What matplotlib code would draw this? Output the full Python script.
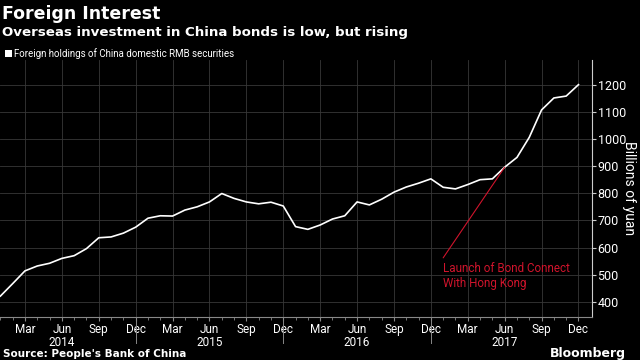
import numpy as np
import matplotlib
matplotlib.use('Agg')
import matplotlib.pyplot as plt
import matplotlib.transforms as mtransforms
from matplotlib.patches import Rectangle

plt.rcParams['font.family'] = ['DejaVu Sans']
narrow = ['Liberation Sans Narrow', 'Roboto', 'DejaVu Sans']

#%% data (monthly, Jan 2014 - Dec 2017), billions of yuan
years = [2014, 2015, 2016, 2017]
month_names = ['Jan', 'Feb', 'Mar', 'Apr', 'May', 'Jun',
               'Jul', 'Aug', 'Sep', 'Oct', 'Nov', 'Dec']
holdings = [421, 467, 514, 532, 542, 560, 570, 596, 636, 639, 653, 675,
            708, 717, 716, 738, 750, 768, 799, 781, 768, 761, 767, 753,
            677, 667, 683, 705, 717, 768, 757, 778, 804, 823, 837, 853,
            822, 816, 832, 850, 853, 896, 932, 1006, 1107, 1151, 1158, 1200]
y_ticks = [400, 500, 600, 700, 800, 900, 1000, 1100, 1200]
event_month = 41   # Jun 2017, Bond Connect launch
event_text = 'Launch of Bond Connect\nWith Hong Kong'

#%% figure
bg = 'black'
grid_c = '#383838'
red = '#d0142c'

fig = plt.figure(figsize=(6.4, 3.6), dpi=100, facecolor=bg)
ax = fig.add_axes([0.0, 0.1194, 0.925, 0.7140], facecolor=bg)

months = np.arange(len(holdings))
ax.plot(months, holdings, color='white', lw=1.2, zorder=3)

ax.set_xlim(-0.03, 48.1)
ax.set_ylim(344, 1291)

# x ticks: quarters with month names, year under Jun
major = [m for m in months if m % 3 == 2]
labels = []
for m in major:
    lab = month_names[m % 12]
    if m % 12 == 5:
        lab = lab + '\n' + str(years[m // 12])
    labels.append(lab)
ax.set_xticks(major)
ax.set_xticklabels(labels, color='white', fontsize=8.5, linespacing=1.05, family=narrow)
ax.set_xticks(months, minor=True)
ax.tick_params(axis='x', which='major', length=3, color='#888888', pad=1)
ax.tick_params(axis='x', which='minor', length=2, color='#888888')

# year separators below axis at Dec
trans = mtransforms.blended_transform_factory(ax.transData, ax.transAxes)
for m in major:
    if m % 12 == 11 and m != months[-1]:
        ax.plot([m, m], [0, -0.10], color='#888888', lw=0.7, transform=trans, clip_on=False)

# y axis on the right
ax.yaxis.tick_right()
ax.set_yticks(y_ticks)
ax.set_yticklabels([str(v) for v in y_ticks], color='white', fontsize=9, family=narrow)
ax.tick_params(axis='y', length=3, color='#cccccc', pad=1)
ax.set_ylabel('Billions of yuan', color='white', fontsize=10, rotation=270, family=narrow)
ax.yaxis.set_label_position('right')
ax.yaxis.set_label_coords(1.062, 0.5)
ax.yaxis.label.set_va('center')

ax.grid(True, color=grid_c, lw=0.6)
ax.set_axisbelow(True)

for s in ['top', 'left']:
    ax.spines[s].set_visible(False)
ax.spines['right'].set_color('#cccccc')
ax.spines['bottom'].set_color('#888888')

# annotation: leader line plus text underneath its start
ax.annotate('', xy=(event_month, holdings[event_month]), xytext=(36.0, 562),
            arrowprops=dict(arrowstyle='-', color=red, lw=0.8, shrinkA=0, shrinkB=0))
ax.text(36.0, 545, event_text, color=red, fontsize=8.4, ha='left', va='top',
        linespacing=1.2, family=narrow)

# titles
fig.text(0.003, 0.985, 'Foreign Interest', color='white', fontsize=12.5,
         fontweight='bold', va='top', ha='left')
fig.text(0.003, 0.928, 'Overseas investment in China bonds is low, but rising',
         color='white', fontsize=9.6, fontweight='bold', va='top', ha='left')
fig.patches.append(Rectangle((0.008, 0.841), 0.010, 0.019, transform=fig.transFigure,
                             facecolor='white', edgecolor='none'))
fig.text(0.022, 0.851, 'Foreign holdings of China domestic RMB securities',
         color='white', fontsize=7.0, va='center', ha='left', family=narrow)

fig.text(0.004, 0.018, "Source: People's Bank of China", color='white',
         fontsize=7.5, fontweight='bold', va='center', ha='left')
fig.text(0.978, 0.018, 'Bloomberg', color='white', fontsize=9,
         fontweight='bold', va='center', ha='right')

fig.savefig('out.png', dpi=100, facecolor=bg)
